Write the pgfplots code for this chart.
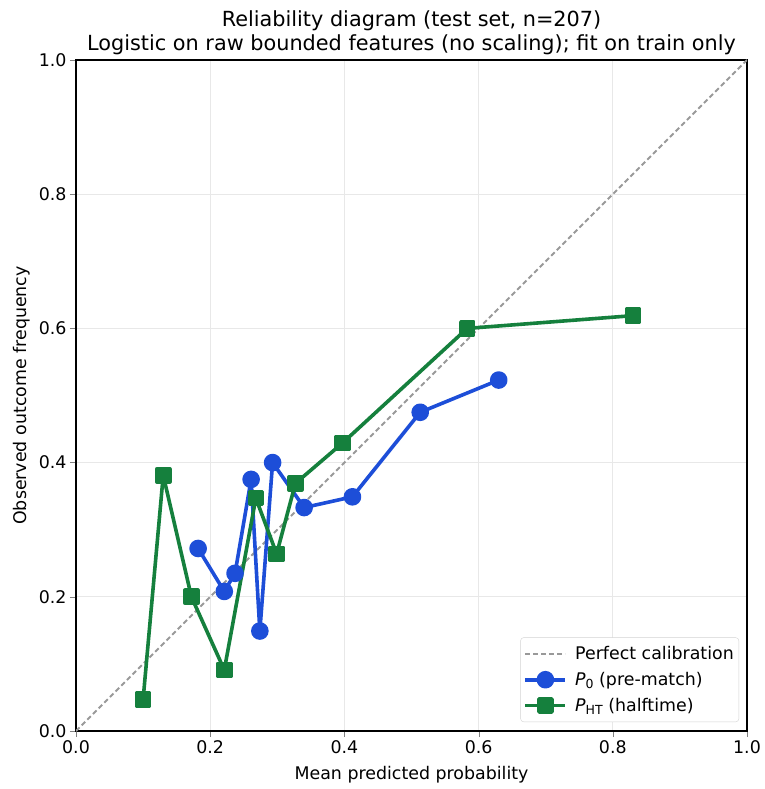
\documentclass[border=0pt]{standalone}
\usepackage{fontspec}
\setmainfont{DejaVu Sans}
\usepackage{pgfplots}
\pgfplotsset{compat=1.18}
\definecolor{pblue}{HTML}{1D4ED8}
\definecolor{pgreen}{HTML}{15803D}
\begin{document}
\begin{tikzpicture}
\useasboundingbox (-76pt,-58pt) rectangle (688pt,731pt);
\begin{axis}[
  at={(0pt,0pt)}, anchor=south west,
  scale only axis, width=671pt, height=671pt,
  xmin=0, xmax=1, ymin=0, ymax=1,
  xtick={0,0.2,0.4,0.6,0.8,1.0}, ytick={0,0.2,0.4,0.6,0.8,1.0},
  /pgf/number format/assume math mode=true,
  /pgf/number format/.cd, fixed, fixed zerofill, precision=1, /pgfplots/.cd,
  tick label style={font=\fontsize{17.4}{20}\selectfont},
  label style={font=\fontsize{17.4}{20}\selectfont},
  xlabel style={yshift=-6pt},
  ylabel style={yshift=2pt},
  tick align=outside, major tick length=6pt,
  xtick pos=bottom, ytick pos=left,
  grid=major, grid style={gray!18, line width=1pt},
  axis line style={line width=1.3pt},
  xlabel={Mean predicted probability},
  ylabel={Observed outcome frequency},
  title style={font=\fontsize{20.8}{24}\selectfont, align=center, yshift=-4pt},
  title={Reliability diagram (test set, n=207)\\Logistic on raw bounded features (no scaling); fit on train only},
  legend style={at={(1,0)}, anchor=south east, xshift=-8pt, yshift=9pt,
    font=\fontsize{17.4}{20}\selectfont, draw=gray!35, rounded corners=3pt,
    row sep=7pt, column sep=6pt, inner xsep=3pt, inner ysep=7pt},
  legend cell align=left,
  legend image code/.code={\draw[mark repeat=2,mark phase=2,#1] plot coordinates {(0pt,0pt)(20pt,0pt)(40pt,0pt)};},
]
\addplot[gray!80, line width=1.8pt, dash pattern=on 5pt off 3pt, forget plot] coordinates {(0,0) (1,1)};
\addlegendimage{gray!80, line width=1.8pt, dash pattern=on 5pt off 3pt}
\addlegendentry{Perfect calibration}
\addplot[pblue, line width=3.6pt, line join=round, mark=*, mark size=7pt, mark options={solid}] coordinates {
(0.182,0.272) (0.221,0.208) (0.237,0.235) (0.261,0.375) (0.274,0.149)
(0.293,0.400) (0.340,0.333) (0.412,0.349) (0.513,0.475) (0.630,0.523)};
\addlegendentry{\textit{P}\raisebox{-0.3ex}{\fontsize{12.5}{12}\selectfont 0} (pre-match)}
\addplot[pgreen, line width=3.6pt, line join=round, mark=square*, mark size=6.5pt, mark options={solid}] coordinates {
(0.100,0.047) (0.130,0.381) (0.172,0.200) (0.221,0.091) (0.268,0.347)
(0.299,0.264) (0.327,0.369) (0.397,0.429) (0.583,0.600) (0.830,0.619)};
\addlegendentry{\textit{P}\raisebox{-0.3ex}{\fontsize{12.5}{12}\selectfont HT} (halftime)}
\end{axis}
\end{tikzpicture}
\end{document}
